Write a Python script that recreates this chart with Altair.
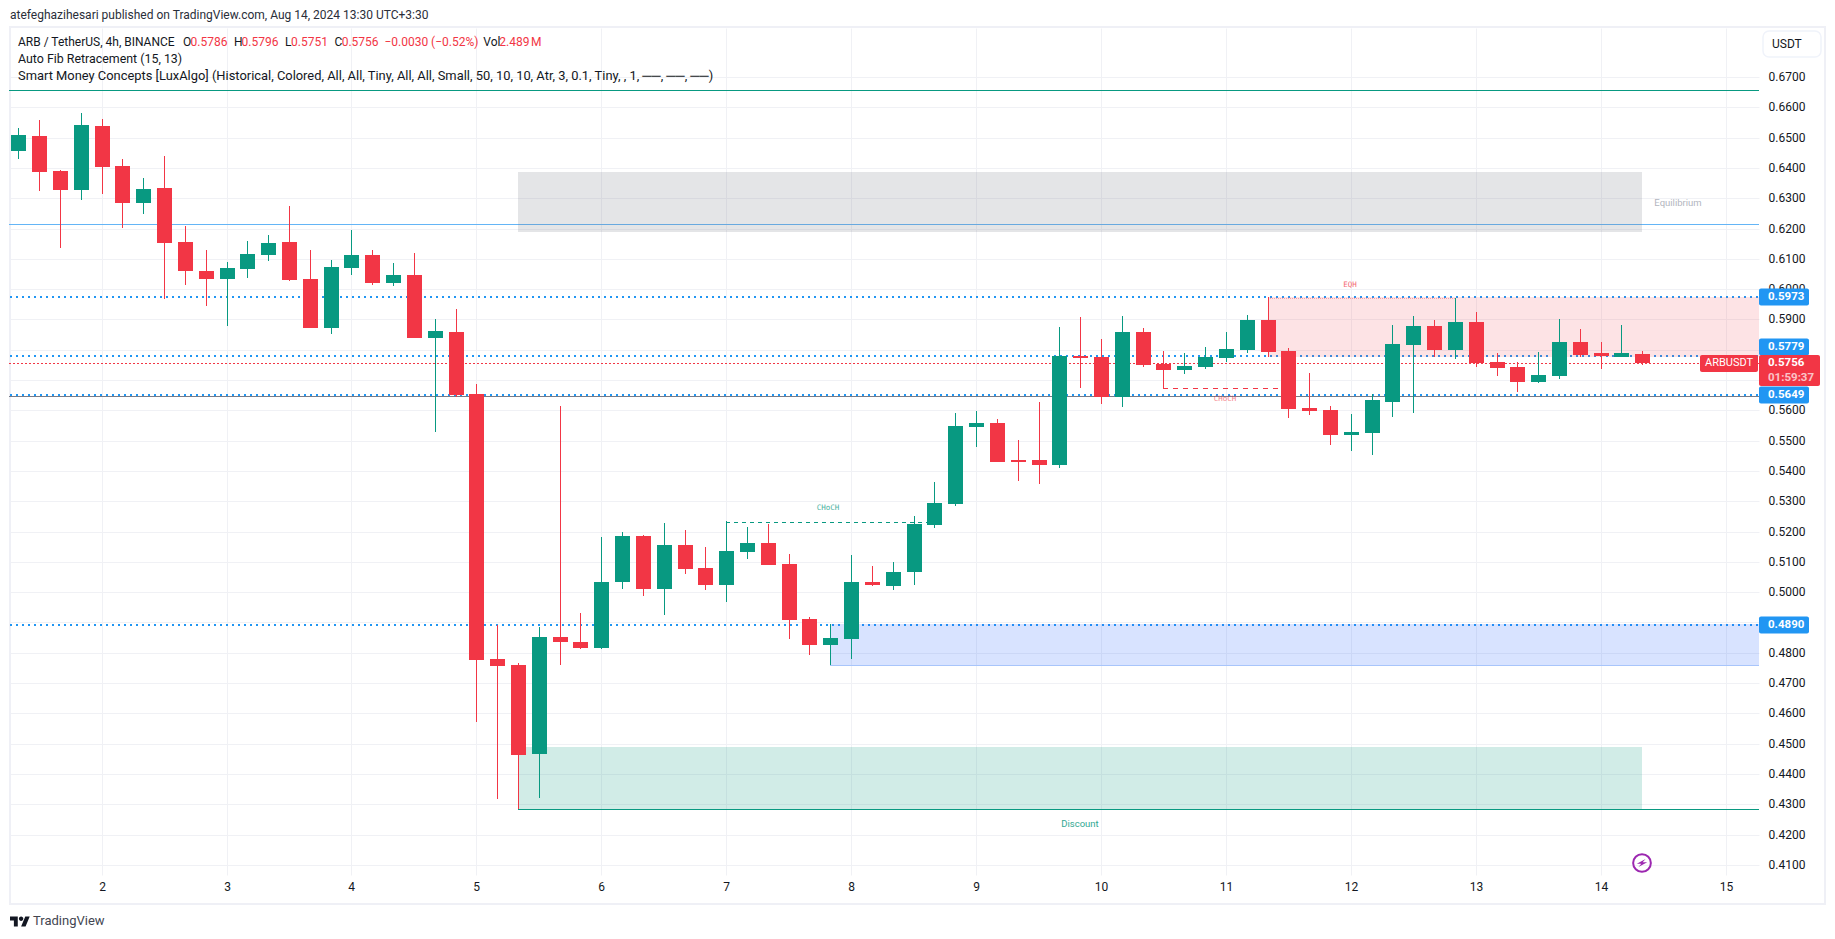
import altair as alt
import pandas as pd

opens = [.6456,.6505,.6390,.6327,.6538,.6406,.6284,.6334,.6155,.6060,.6033,.6066,.6113,.6155,.6033,.5872,.6070,.6113,.6020,.6047,
         .5839,.5859,.5653,.4778,.4758,.4465,.4851,.4837,.4814,.5032,.5184,.5009,.5154,.5079,.5022,.5131,.5161,.5092,.4910,.4824,
         .4844,.5035,.5019,.5065,.5220,.5290,.5544,.5557,.5435,.5435,.5418,.5778,.5775,.5643,.5860,.5752,.5732,.5742,.5771,.5798,
         .5898,.5795,.5606,.5600,.5517,.5524,.5629,.5814,.5877,.5798,.5893,.5758,.5742,.5695,.5712,.5824,.5788,.5775,.5786]
highs = [.6531,.6558,.6393,.6581,.6561,.6430,.6367,.6439,.6208,.6129,.6090,.6159,.6179,.6274,.6129,.6096,.6195,.6129,.6086,.6119,
         .5901,.5935,.5686,.4890,.4765,.4884,.5613,.4930,.5181,.5197,.5187,.5227,.5204,.5148,.5234,.5214,.5224,.5125,.4917,.4894,
         .5121,.5085,.5101,.5250,.5362,.5590,.5597,.5570,.5501,.5629,.5874,.5908,.5834,.5911,.5870,.5795,.5788,.5808,.5857,.5915,
         .5974,.5804,.5722,.5613,.5587,.5653,.5880,.5910,.5897,.5969,.5926,.5788,.5761,.5791,.5900,.5867,.5827,.5880,.5796]
lows = [.6430,.6324,.6136,.6294,.6314,.6202,.6248,.5967,.6014,.5944,.5878,.6037,.6093,.6027,.5872,.5852,.6047,.6014,.6010,.5839,
        .5529,.5644,.4570,.4316,.4285,.4320,.4758,.4811,.4811,.5009,.4986,.4923,.5059,.5006,.4966,.5108,.5088,.4844,.4791,.4758,
        .4778,.5019,.5006,.5022,.5210,.5283,.5478,.5431,.5366,.5356,.5408,.5675,.5620,.5610,.5742,.5672,.5719,.5735,.5758,.5789,
        .5775,.5573,.5583,.5484,.5465,.5451,.5577,.5590,.5775,.5768,.5742,.5712,.5662,.5689,.5702,.5775,.5735,.5775,.5751]
closes = [.6509,.6387,.6327,.6542,.6403,.6284,.6330,.6152,.6060,.6033,.6070,.6116,.6152,.6030,.5872,.6073,.6113,.6020,.6047,.5839,
          .5862,.5650,.4775,.4755,.4461,.4851,.4834,.4814,.5035,.5184,.5009,.5154,.5075,.5022,.5135,.5161,.5088,.4907,.4824,.4847,
          .5035,.5022,.5068,.5224,.5293,.5547,.5557,.5431,.5431,.5418,.5778,.5771,.5643,.5860,.5748,.5732,.5745,.5775,.5801,.5898,
          .5791,.5603,.5597,.5517,.5527,.5633,.5818,.5877,.5798,.5893,.5755,.5738,.5695,.5715,.5824,.5784,.5778,.5788,.5756]

day_ticks = [4, 10, 16, 22, 28, 34, 40, 46, 52, 58, 64, 70, 76, 82]
price_ticks = [round(0.41 + k * 0.01, 2) for k in range(27)]

X0, X1 = -0.4467, 83.605
Y0, Y1 = 0.40664, 0.68617
W, H = 1750, 847
GREEN, RED, BLUE = "#089981", "#f23645", "#2196f3"
FONT = "Roboto"
TXT = "#131722"
GRID = "#f0f1f5"

xs = alt.Scale(domain=[X0, X1], nice=False, zero=False, round=True, padding=0)
ys = alt.Scale(domain=[Y0, Y1], nice=False, zero=False, round=True, padding=0)
XAX = alt.Axis(values=day_ticks, labelExpr="(datum.value + 8) / 6", title=None, domain=False, ticks=False,
               grid=True, gridColor=GRID, gridWidth=1, labelPadding=11, labelBaseline="middle",
               labelFont=FONT, labelFontSize=12, labelColor=TXT, labelOverlap=False, labelFlush=False)
YAX = alt.Axis(values=price_ticks, format=".4f", orient="right", title=None, domain=False, ticks=False,
               grid=True, gridColor=GRID, gridWidth=1, labelPadding=9, labelBaseline="middle", labelOffset=-1,
               labelFont=FONT, labelFontSize=12, labelColor=TXT, labelOverlap=False, labelFlush=False)


def ex(field):
    return alt.X(field, scale=xs, axis=XAX)


def ey(field):
    return alt.Y(field, scale=ys, axis=YAX)


n = len(opens)
candles = pd.DataFrame({
    "i": list(range(n)), "o": opens, "h": highs, "l": lows, "c": closes,
    "dir": ["up" if c >= o else "down" for o, c in zip(opens, closes)],
})
color = alt.Color("dir:N", scale=alt.Scale(domain=["up", "down"], range=[GREEN, RED]), legend=None)


def hline(price, color_, width, dash=None, x1=X0, x2=X1, phase=0):
    kw = {"strokeDash": dash, "strokeDashOffset": phase} if dash else {}
    off = 0.5 if width == 1 else 0
    return alt.Chart(pd.DataFrame({"p": [price], "a": [x1], "b": [x2]})).mark_rule(
        color=color_, strokeWidth=width, yOffset=off, **kw
    ).encode(x=ex("a:Q"), x2="b:Q", y=ey("p:Q"))


def zone(x1, x2, top, bottom, color_):
    return alt.Chart(pd.DataFrame({"a": [x1], "b": [x2], "t": [top], "u": [bottom]})).mark_rect(color=color_).encode(
        x=ex("a:Q"), x2="b:Q", y=ey("t:Q"), y2="u:Q")


def fixed(text, px, py, color_=TXT, size=12, weight="normal", font=FONT, opacity=1):
    return alt.Chart(pd.DataFrame({"t": [text]})).mark_text(
        align="left", baseline="middle", font=font, fontSize=size, color=color_, fontWeight=weight, opacity=opacity
    ).encode(x=alt.value(px - 9), y=alt.value(py - 28), text="t:N")


def note(text, i, price, color_, size, font=FONT, opacity=1):
    return alt.Chart(pd.DataFrame({"t": [text], "i": [i], "p": [price]})).mark_text(
        align="center", baseline="middle", font=font, fontSize=size, color=color_, opacity=opacity
    ).encode(x=ex("i:Q"), y=ey("p:Q"), text="t:N")


def tag(text, price, left, right, color_, tx, h=17, off=0, toff=0, size=11.5, weight="bold"):
    rect = alt.Chart(pd.DataFrame({"p": [price]})).mark_rect(
        color=color_, height=h, cornerRadius=2, yOffset=off
    ).encode(x=alt.value(left - 9), x2=alt.value(right - 9), y=ey("p:Q"))
    label = alt.Chart(pd.DataFrame({"p": [price], "t": [text]})).mark_text(
        align="left", baseline="middle", font=FONT, fontSize=size, fontWeight=weight, color="#ffffff", dy=toff
    ).encode(x=alt.value(tx - 9), y=ey("p:Q"), text="t:N")
    return [rect, label]


frame = alt.Chart(pd.DataFrame({"k": [0]})).mark_rect(
    filled=False, stroke="#eff0f6", strokeWidth=2
).encode(x=alt.value(1), x2=alt.value(1816), y=alt.value(-1), y2=alt.value(876))

usdt = alt.Chart(pd.DataFrame({"k": [0]})).mark_rect(
    fill="#ffffff", stroke="#f0f3fa", strokeWidth=1.5, cornerRadius=6
).encode(x=alt.value(1754), x2=alt.value(1812), y=alt.value(3), y2=alt.value(29))

wicks = alt.Chart(candles).mark_rule(strokeWidth=1, xOffset=0.5).encode(
    x=ex("i:Q"), y=ey("l:Q"), y2="h:Q", color=color)
bodies = alt.Chart(candles).mark_bar(size=15, xOffset=0.5).encode(
    x=ex("i:Q"), y=ey("o:Q"), y2="c:Q", color=color)

bolt_pos = pd.DataFrame({"i": [78], "p": [0.4105]})
bolt_ring = alt.Chart(bolt_pos).mark_point(shape="circle", size=314, filled=False, color="#9c27b0", strokeWidth=2, opacity=1).encode(
    x=ex("i:Q"), y=ey("p:Q"))
bolt = alt.Chart(bolt_pos).mark_point(
    shape="M0.55,-0.6 L-0.8,0.12 L-0.1,0.12 L-0.55,0.6 L0.8,-0.12 L0.1,-0.12 Z",
    size=170, filled=True, color="#9c27b0", opacity=1
).encode(x=ex("i:Q"), y=ey("p:Q"))

logo = alt.Chart(pd.DataFrame({"k": [0]})).mark_point(
    shape="M-.222,.5 H-.611 V-.111 H-1 V-.5 H-.222 Z M.556,.5 H.111 L.528,-.5 H.972 Z "
          "M-.111,-.278 a.222,.222 0 1,0 .444,0 a.222,.222 0 1,0 -.444,0 Z",
    size=400, filled=True, color=TXT, opacity=1
).encode(x=alt.value(20 - 9), y=alt.value(921.5 - 28))

layers = [
    frame,
    hline(0.6656, GREEN, 1),
    hline(0.6214, "#64b5f6", 1),
    hline(0.5974, BLUE, 2, [2, 4], phase=5),
    hline(0.5779, BLUE, 2, [2, 4], phase=5),
    hline(0.5650, BLUE, 2, [2, 4], phase=5),
    hline(0.4890, BLUE, 2, [2, 4], phase=5),
    hline(0.5648, "#787b86", 1),
    hline(0.5756, RED, 1, [2, 2]),
    zone(24, 78, 0.6386, 0.6188, "rgba(120,123,134,0.2)"),
    zone(60, X1, 0.5973, 0.5776, "rgba(242,54,69,0.14)"),
    zone(39, X1, 0.4894, 0.4760, "rgba(41,98,255,0.18)"),
    zone(24, 78, 0.4488, 0.4285, "rgba(8,153,129,0.19)"),
    hline(0.4760, "#a8c5fb", 1, x1=39),
    hline(0.4285, GREEN, 1, x1=24),
    hline(0.5972, "#f7a1a8", 1, [1, 1], x1=60, x2=69),
    hline(0.5232, GREEN, 1, [4, 4], x1=34, x2=44),
    hline(0.5675, RED, 1, [5, 5], x1=55, x2=61),
    wicks,
    bodies,
    note("CHoCH", 38.9, 0.5278, GREEN, 7.5, "DejaVu Sans Mono", 0.75),
    note("CHoCH", 57.96, 0.5636, RED, 7.5, "DejaVu Sans Mono", 0.6),
    note("EQH", 63.98, 0.6014, RED, 7.5, "DejaVu Sans Mono", 0.75),
    note("Equilibrium", 79.7, 0.6285, "#b2b5be", 9.5),
    note("Discount", 51.0, 0.4236, GREEN, 9.5, FONT, 0.85),
    usdt,
    fixed("USDT", 1772, 44, TXT, 12),
    bolt_ring,
    bolt,
    logo,
    fixed("TradingView", 33, 921, "#434651", 13),
    fixed("atefeghazihesari published on TradingView.com, Aug 14, 2024 13:30 UTC+3:30", 10, 15, "#2a2e39", 12),
    fixed("ARB / TetherUS, 4h, BINANCE", 18, 42),
    fixed("O", 183, 42), fixed("0.5786", 190.5, 42, RED),
    fixed("H", 234, 42), fixed("0.5796", 241.5, 42, RED),
    fixed("L", 285, 42), fixed("0.5751", 291, 42, RED),
    fixed("C", 334.5, 42), fixed("0.5756", 341.7, 42, RED),
    fixed("\u22120.0030 (\u22120.52%)", 384.4, 42, RED),
    fixed("Vol", 483.3, 42), fixed("2.489\u202fM", 499.3, 42, RED),
    fixed("Auto Fib Retracement (15, 13)", 18, 59, TXT, 12.4),
    fixed("Smart Money Concepts [LuxAlgo] (Historical, Colored, All, All, Tiny, All, All, Small, 50, 10, 10, Atr, 3, 0.1, Tiny, , 1, \u2500\u2500, \u2500\u2500, \u2500\u2500)", 18, 76, TXT, 12.9),
]

layers += tag("0.5973", 0.5974, 1759, 1809, BLUE, 1768)
layers += tag("0.5779", 0.5779, 1759, 1809, BLUE, 1768, off=-9, toff=-9)
layers += tag("0.5649", 0.5650, 1759, 1809, BLUE, 1768)
layers += tag("0.4890", 0.4890, 1759, 1809, BLUE, 1768)
layers += tag("ARBUSDT", 0.5756, 1700, 1758, RED, 1705, off=0.5, size=11, weight="normal")
layers += tag("0.5756", 0.5756, 1759, 1820, RED, 1768, h=31, off=7.5)
layers.append(alt.Chart(pd.DataFrame({"p": [0.5756], "t": ["01:59:37"]})).mark_text(
    align="left", baseline="middle", font=FONT, fontSize=11.5, fontWeight="bold", color="#ffffff", opacity=0.7, dy=15
).encode(x=alt.value(1768 - 9), y=ey("p:Q"), text="t:N"))

chart = alt.layer(*layers).properties(
    width=W, height=H, autosize="none", background="#ffffff",
    padding={"left": 1, "top": 20, "right": 68, "bottom": 56},
).configure_view(stroke=None)

chart.save("out.html", embed_options={"renderer": "svg", "actions": False})
